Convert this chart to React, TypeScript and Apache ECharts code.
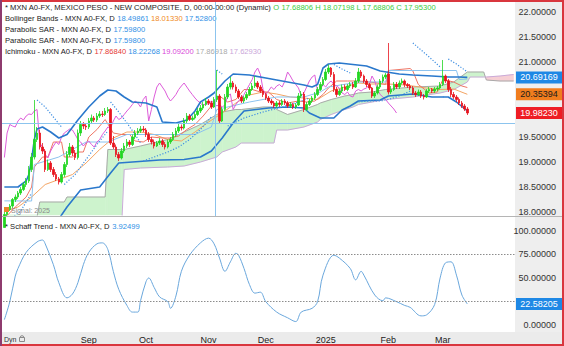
import React, { useEffect, useRef } from 'react';
import * as echarts from 'echarts';

const FIRST_DAY = '2024-07-19';
const SLOT_COUNT = 188;
const CHIKOU_SHIFT = 26;
const FONT = 'Arial, "Liberation Sans", sans-serif';

const opens = [
  17.69, 17.95, 18.05, 18.12, 18.25, 18.30, 18.38, 18.45, 18.55, 18.62,
  18.85, 19.10, 19.45, 19.58, 19.30, 19.22, 18.85, 18.98, 18.85, 18.75,
  18.66, 18.60, 18.75, 18.95, 19.15, 19.30, 19.18, 19.09, 19.58, 19.75,
  19.72, 19.70, 19.82, 19.88, 19.84, 19.92, 19.96, 19.95, 20.02, 20.05,
  19.38, 19.30, 19.15, 19.08, 19.22, 19.32, 19.40, 19.35, 19.50, 19.58,
  19.62, 19.66, 19.64, 19.55, 19.45, 19.40, 19.32, 19.38, 19.42, 19.35,
  19.30, 19.40, 19.45, 19.55, 19.62, 19.70, 19.68, 19.82, 19.92, 19.85,
  19.88, 19.95, 20.02, 20.08, 20.15, 20.22, 20.18, 20.10, 20.25, 20.32,
  19.82, 20.05, 20.30, 20.50, 20.58, 20.50, 20.42, 20.30, 20.22, 20.28,
  20.35, 20.45, 20.52, 20.58, 20.50, 20.42, 20.35, 20.28, 20.22, 20.18,
  20.12, 20.18, 20.15, 20.22, 20.18, 20.12, 20.15, 20.10, 20.14, 20.32,
  20.36, 20.05, 20.15, 20.22, 20.28, 20.35, 20.45, 20.55, 20.65, 20.80,
  20.88, 20.75, 20.45, 20.35, 20.42, 20.50, 20.45, 20.52, 20.55, 20.50,
  20.62, 20.80, 20.72, 20.62, 20.55, 20.48, 20.32, 20.38, 20.50, 20.62,
  20.70, 20.76, 20.40, 20.45, 20.55, 20.50, 20.58, 20.62, 20.55, 20.52,
  20.48, 20.38, 20.35, 20.40, 20.32, 20.30, 20.42, 20.45, 20.42, 20.46,
  20.48, 20.55, 20.72, 20.62, 20.45, 20.35, 20.30, 20.25, 20.18, 20.12, 20.06,
];
const closes = [
  17.95, 18.05, 18.12, 18.25, 18.30, 18.38, 18.45, 18.55, 18.62, 18.85,
  19.10, 19.45, 19.58, 19.30, 19.22, 18.85, 18.98, 18.85, 18.75, 18.66,
  18.60, 18.75, 18.95, 19.15, 19.30, 19.18, 19.09, 19.58, 19.75, 19.72,
  19.70, 19.82, 19.88, 19.84, 19.92, 19.96, 19.95, 20.02, 20.05, 19.38,
  19.30, 19.15, 19.08, 19.22, 19.32, 19.40, 19.35, 19.50, 19.58, 19.62,
  19.66, 19.64, 19.55, 19.45, 19.40, 19.32, 19.38, 19.42, 19.35, 19.30,
  19.40, 19.45, 19.55, 19.62, 19.70, 19.68, 19.82, 19.92, 19.85, 19.88,
  19.95, 20.02, 20.08, 20.15, 20.22, 20.18, 20.10, 20.25, 20.32, 19.82,
  20.05, 20.30, 20.50, 20.58, 20.50, 20.42, 20.30, 20.22, 20.28, 20.35,
  20.45, 20.52, 20.58, 20.50, 20.42, 20.35, 20.28, 20.22, 20.18, 20.12,
  20.18, 20.15, 20.22, 20.18, 20.12, 20.15, 20.10, 20.14, 20.32, 20.36,
  20.05, 20.15, 20.22, 20.28, 20.35, 20.45, 20.55, 20.65, 20.80, 20.88,
  20.75, 20.45, 20.35, 20.42, 20.50, 20.45, 20.52, 20.55, 20.50, 20.62,
  20.80, 20.72, 20.62, 20.55, 20.48, 20.32, 20.38, 20.50, 20.62, 20.70,
  20.74, 20.40, 20.45, 20.55, 20.50, 20.58, 20.62, 20.55, 20.52, 20.48,
  20.38, 20.35, 20.40, 20.32, 20.30, 20.42, 20.45, 20.42, 20.46, 20.48,
  20.55, 20.72, 20.62, 20.45, 20.35, 20.30, 20.25, 20.18, 20.12, 20.06, 19.98,
];
const highs = [
  18.07, 18.09, 18.16, 18.28, 18.35, 18.42, 18.50, 18.60, 18.68, 18.92,
  19.18, 20.24, 19.70, 19.65, 19.38, 19.26, 19.05, 19.02, 18.90, 18.80,
  18.70, 18.80, 19.00, 19.22, 19.38, 19.34, 19.24, 19.65, 19.82, 19.80,
  19.78, 19.88, 19.95, 19.92, 19.98, 20.02, 20.02, 20.08, 20.10, 20.08,
  19.52, 19.35, 19.20, 19.28, 19.38, 19.46, 19.44, 19.55, 19.64, 19.68,
  19.72, 19.72, 19.68, 19.60, 19.50, 19.45, 19.42, 19.48, 19.46, 19.40,
  19.45, 19.50, 19.60, 19.68, 19.76, 19.75, 19.88, 19.98, 19.96, 19.93,
  20.00, 20.08, 20.14, 20.20, 20.28, 20.26, 20.22, 20.30, 20.84, 20.36,
  20.10, 20.36, 20.56, 20.70, 20.62, 20.55, 20.46, 20.34, 20.32, 20.40,
  20.50, 20.58, 20.72, 20.62, 20.54, 20.46, 20.38, 20.32, 20.26, 20.22,
  20.22, 20.22, 20.26, 20.26, 20.22, 20.20, 20.18, 20.18, 20.38, 20.42,
  20.40, 20.20, 20.26, 20.32, 20.40, 20.50, 20.60, 20.70, 20.86, 20.95,
  20.90, 20.80, 20.50, 20.46, 20.55, 20.55, 20.56, 20.60, 20.60, 20.68,
  20.88, 20.84, 20.75, 20.66, 20.58, 20.50, 20.42, 20.55, 20.66, 20.75,
  20.78, 21.38, 20.52, 20.60, 20.60, 20.63, 20.67, 20.65, 20.58, 20.56,
  20.52, 20.42, 20.45, 20.44, 20.36, 20.46, 20.50, 20.48, 20.50, 20.52,
  20.60, 21.04, 20.75, 20.66, 20.50, 20.40, 20.34, 20.29, 20.22, 20.16, 20.10,
];
const lows = [
  17.69, 17.92, 18.02, 18.08, 18.20, 18.26, 18.34, 18.42, 18.50, 18.58,
  18.80, 19.05, 19.40, 19.25, 19.16, 18.80, 18.82, 18.80, 18.70, 18.62,
  18.55, 18.57, 18.70, 18.90, 19.10, 19.12, 19.04, 19.05, 19.52, 19.66,
  19.64, 19.66, 19.78, 19.80, 19.80, 19.88, 19.90, 19.92, 19.98, 19.34,
  19.26, 19.10, 19.02, 19.05, 19.18, 19.28, 19.30, 19.32, 19.46, 19.54,
  19.58, 19.60, 19.50, 19.40, 19.35, 19.27, 19.30, 19.34, 19.30, 19.25,
  19.27, 19.36, 19.42, 19.50, 19.58, 19.63, 19.65, 19.78, 19.82, 19.82,
  19.85, 19.92, 19.98, 20.04, 20.12, 20.14, 20.06, 20.08, 20.20, 19.78,
  19.80, 20.02, 20.26, 20.45, 20.45, 20.38, 20.26, 20.18, 20.18, 20.24,
  20.32, 20.42, 20.48, 20.46, 20.38, 20.30, 20.24, 20.18, 20.14, 20.08,
  20.08, 20.10, 20.12, 20.14, 20.08, 20.08, 20.06, 20.06, 20.12, 20.28,
  20.00, 20.02, 20.12, 20.18, 20.24, 20.32, 20.42, 20.52, 20.62, 20.76,
  20.70, 20.40, 20.30, 20.32, 20.38, 20.42, 20.42, 20.48, 20.46, 20.48,
  20.58, 20.68, 20.58, 20.50, 20.44, 20.28, 20.28, 20.35, 20.46, 20.58,
  20.66, 20.35, 20.36, 20.42, 20.46, 20.46, 20.55, 20.50, 20.48, 20.44,
  20.34, 20.30, 20.32, 20.28, 20.25, 20.28, 20.38, 20.38, 20.38, 20.42,
  20.45, 20.52, 20.58, 20.40, 20.30, 20.26, 20.20, 20.14, 20.08, 20.02, 19.94,
];

// Bollinger bands: [bar index, value]
const bbUpper = [
  [0, 18.5], [5, 18.5], [8, 18.62], [9, 18.75], [10, 19.05], [11, 19.45], [12, 19.66], [14, 19.7],
  [17, 19.6], [20, 19.48], [23, 19.55], [27, 19.84], [31, 20.1], [35, 20.32], [38, 20.44], [41, 20.42],
  [44, 20.3], [47, 20.2], [52, 20.18], [56, 20.1], [58, 19.8], [63, 19.78], [67, 19.84], [70, 20.02],
  [72, 20.2], [75, 20.3], [77, 20.38], [79, 20.5], [81, 20.62], [84, 20.76], [90, 20.74], [96, 20.68],
  [100, 20.64], [106, 20.58], [110, 20.54], [113, 20.5], [115, 20.55], [117, 20.88], [119, 20.96],
  [123, 20.98], [128, 20.95], [133, 20.92], [138, 20.82], [145, 20.76], [150, 20.74], [157, 20.72],
  [163, 20.7], [167, 20.7], [170, 20.69169],
];
const bbMiddle = [
  [0, 18.0133], [5, 18.1], [10, 18.3], [15, 18.55], [20, 18.65], [25, 18.75], [30, 18.98], [35, 19.25],
  [40, 19.48], [45, 19.6], [50, 19.6], [55, 19.55], [60, 19.45], [65, 19.42], [70, 19.6], [75, 19.8],
  [80, 19.98], [85, 20.18], [90, 20.34], [95, 20.4], [100, 20.36], [105, 20.3], [110, 20.28], [115, 20.25],
  [120, 20.42], [125, 20.5], [130, 20.58], [135, 20.56], [140, 20.56], [145, 20.55], [150, 20.52],
  [155, 20.48], [160, 20.45], [165, 20.46], [170, 20.35394],
];
const bbLower = [
  [0, 17.528], [10, 17.55], [14, 17.45], [19, 17.78], [23, 18.1], [28, 18.44], [35, 18.5], [39, 18.78],
  [42, 18.98], [47, 19.0], [57, 19.04], [66, 19.05], [72, 19.1], [76, 19.22], [80, 19.48], [84, 19.78],
  [88, 20.02], [97, 20.08], [104, 20.1], [110, 20.08], [112, 19.98], [116, 19.88], [121, 19.88],
  [124, 20.04], [127, 20.12], [130, 20.22], [138, 20.24], [141, 20.32], [150, 20.36], [157, 20.3],
  [163, 20.3], [166, 20.2], [170, 20.02],
];

// Ichimoku
const tenkan = [
  [0, 17.8684], [4, 18.1], [8, 18.3], [10, 18.5], [11, 18.9], [14, 19.1], [16, 19.1], [18, 19.4], [21, 19.4],
  [22, 19.1], [25, 19.1], [27, 19.2], [29, 19.2], [31, 19.5], [34, 19.65], [37, 19.85], [40, 19.58],
  [43, 19.55], [46, 19.55], [48, 19.42], [51, 19.4], [54, 19.5], [58, 19.48], [61, 19.48], [64, 19.52],
  [67, 19.65], [70, 19.75], [73, 19.92], [76, 20.12], [79, 20.32], [82, 20.2], [85, 20.25], [88, 20.45],
  [91, 20.45], [94, 20.4], [97, 20.4], [100, 20.25], [104, 20.18], [108, 20.22], [111, 20.2], [114, 20.22],
  [117, 20.35], [119, 20.48], [122, 20.62], [126, 20.62], [130, 20.62], [134, 20.6], [137, 20.58],
  [140, 20.55], [141, 20.83], [149, 20.87], [150, 20.82], [152, 20.55], [156, 20.38], [159, 20.4],
  [161, 20.65], [165, 20.6], [168, 20.52], [170, 20.49],
];
const kijun = [
  [0, 18.2227], [10, 18.22], [11, 18.95], [20, 19.1], [30, 19.4], [38, 19.4], [45, 19.55], [55, 19.55],
  [63, 19.55], [70, 19.55], [76, 19.7], [78, 20.05], [90, 20.2], [100, 20.3], [110, 20.3], [116, 20.4],
  [119, 20.5], [130, 20.6], [140, 20.6], [141, 20.83], [166, 20.83], [167, 20.65], [170, 20.66],
];
const cloudIdx = [0, 12, 13, 22, 23, 37, 38, 43, 44, 50, 60, 66, 72, 78, 80, 85, 87, 95, 99, 100, 104, 110, 115, 116, 120, 125, 128, 130, 135, 140, 150, 160, 165, 170, 171, 176, 177, 182, 187];
const spanA = [17.869, 17.90, 18.20, 18.20, 18.30, 18.30, 19.25, 19.25, 19.25, 19.32, 19.45, 19.60, 19.75, 19.95, 20.00, 20.05, 20.05, 20.10, 20.10, 20.05, 19.95, 20.05, 20.15, 20.18, 20.25, 20.32, 20.35, 20.38, 20.40, 20.45, 20.50, 20.52, 20.60, 20.80, 20.80, 20.80, 20.64, 20.62, 20.62];
const spanB = [17.629, 17.63, 17.63, 17.63, 17.63, 17.63, 17.63, 17.63, 18.85, 18.88, 18.90, 18.92, 19.00, 19.10, 19.20, 19.30, 19.38, 19.38, 19.38, 19.64, 19.64, 19.70, 19.80, 19.85, 19.95, 20.05, 20.10, 20.15, 20.20, 20.25, 20.30, 20.38, 20.45, 20.60, 20.70, 20.70, 20.70, 20.72, 20.75];

// Parabolic SAR runs: [bar index, value]
const sarSegments = [
  [[2, 17.85], [6, 18.02], [10, 18.38]],
  [[12, 20.24], [15, 20.1], [18, 19.9], [21, 19.7]],
  [[22, 18.55], [26, 18.75], [30, 19.05], [34, 19.35], [38, 19.62]],
  [[39, 20.2], [42, 20.0], [45, 19.78], [48, 19.55], [50, 19.38]],
  [[51, 19.02], [56, 19.12], [60, 19.2], [64, 19.3], [68, 19.45], [72, 19.65], [76, 19.9]],
  [[78, 20.84], [80, 20.76]],
  [[82, 19.72], [88, 19.88], [95, 20.0], [102, 20.1], [108, 20.2], [112, 20.28]],
  [[121, 20.95], [124, 20.86], [127, 20.78]],
  [[130, 20.2], [134, 20.22], [138, 20.22], [141, 20.25], [145, 20.32], [149, 20.42]],
  [[150, 21.38], [153, 21.24], [156, 21.1], [160, 20.9]],
  [[161, 20.3], [162, 20.32]],
  [[163, 21.06], [166, 20.96], [170, 20.8]],
];

// Schaff Trend: [bar index, value]
const schaff = [
  [0, 6], [2, 25], [4, 52], [5, 60], [8, 77], [12, 88], [14, 90], [15, 86], [18, 64], [20, 45], [23, 29],
  [25, 33], [27, 45], [29, 64], [31, 77], [34, 86], [36, 87], [38, 80], [40, 57], [42, 38], [45, 21],
  [47, 14], [49, 14], [50, 26], [52, 46], [53, 50], [55, 40], [57, 30], [60, 25], [61, 18], [63, 31],
  [65, 57], [68, 74], [72, 87], [75, 92], [77, 86], [79, 71], [81, 57], [83, 67], [85, 76], [86, 74],
  [88, 60], [90, 43], [92, 34], [94, 35], [96, 25], [100, 14], [104, 8], [107, 4], [109, 14], [113, 18],
  [115, 25], [117, 53], [121, 74], [123, 71], [127, 60], [129, 48], [131, 57], [132, 53], [136, 32],
  [139, 26], [140, 29], [144, 25], [147, 21], [149, 19], [153, 10], [155, 11], [158, 22], [160, 50],
  [162, 66], [164, 67], [166, 53], [168, 32], [170, 22.58205],
];

// tick labels left visible by the value markers
const priceTicks = [18, 18.5, 19, 19.5, 21, 21.5, 22];
const stcTicks = [0, 50, 75, 100];
const stcLevels = [75, 25];
const lastUpper = 20.69169;
const lastMiddle = 20.35394;
const lastClose = 19.9823;
const lastStc = 22.58205;
const MONTH_ABBR = ['Jan', 'Feb', 'Mar', 'Apr', 'May', 'Jun', 'Jul', 'Aug', 'Sep', 'Oct', 'Nov', 'Dec'];

const legendRows: [string, string][][] = [
  [['* MXN A0-FX, MEXICO PESO - NEW COMPOSITE, D, 00:00-00:00 (Dynamic) ', '#1a1a1a'], ['O 17.68806 H 18.07198 L 17.68806 C 17.95300', '#3ccc3c']],
  [['Bollinger Bands - MXN A0-FX, D ', '#1a1a1a'], ['18.49861 ', '#2f8fe6'], ['18.01330 ', '#f08a24'], ['17.52800', '#2f8fe6']],
  [['Parabolic SAR - MXN A0-FX, D ', '#1a1a1a'], ['17.59800', '#2f8fe6']],
  [['Parabolic SAR - MXN A0-FX, D ', '#1a1a1a'], ['17.59800', '#2f8fe6']],
  [['Ichimoku - MXN A0-FX, D ', '#1a1a1a'], ['17.86840 ', '#e53935'], ['18.22268 ', '#2f8fe6'], ['19.09200 ', '#d946d9'], ['17.86918 ', '#aaaaaa'], ['17.62930', '#c9a6d9']],
];
const stcLegend: [string, string][] = [['* Schaff Trend - MXN A0-FX, D ', '#1a1a1a'], ['3.92499', '#2f8fe6']];

function tradingDays(start: string, n: number): string[] {
  const out: string[] = [];
  const d = new Date(start + 'T00:00:00Z');
  while (out.length < n) {
    const wd = d.getUTCDay();
    if (wd !== 0 && wd !== 6) out.push(d.toISOString().slice(0, 10));
    d.setUTCDate(d.getUTCDate() + 1);
  }
  return out;
}

function richText(parts: [string, string][], x: number, y: number, size = 7.6) {
  const rich: Record<string, any> = {};
  let text = '';
  parts.forEach(([t, c], k) => {
    rich['s' + k] = { fill: c, fontSize: size, fontFamily: FONT };
    text += '{s' + k + '|' + t + '}';
  });
  return {
    type: 'text', x, y, z: 50, silent: true,
    style: { text, rich, font: `${size}px ${FONT}`, verticalAlign: 'middle', textVerticalAlign: 'middle' },
  };
}

export default function App() {
  const ref = useRef<HTMLDivElement>(null);
  useEffect(() => {
    document.body.style.margin = '0';
    const el = ref.current!;
    const chart = echarts.init(el, undefined, { renderer: 'svg' });
    const dates = tradingDays(FIRST_DAY, SLOT_COUNT);
    const monthLabels: Record<number, string> = {};
    for (let i = 1; i < closes.length; i++) {
      const m = dates[i].slice(5, 7);
      if (m !== dates[i - 1].slice(5, 7) && i > 20) {
        monthLabels[i] = m === '01' ? dates[i].slice(0, 4) : MONTH_ABBR[Number(m) - 1];
      }
    }
    const candleData = opens.map((o, i) => [o, closes[i], lows[i], highs[i]]);
    const chikou = closes.slice(CHIKOU_SHIFT).map((c, i) => [i, c]);
    const line = (data: any[], color: string, width: number, z: number, extra: any = {}) => ({
      type: 'line', data, xAxisIndex: 0, yAxisIndex: 0, symbol: 'none', showSymbol: false, silent: true,
      clip: true, z, lineStyle: { color, width, ...extra },
    });

    const cloudSeries = {
      type: 'custom', xAxisIndex: 0, yAxisIndex: 0, silent: true, z: 1,
      data: [[0, spanA[0]]],
      renderItem: (params: any, api: any) => {
        const cs = params.coordSys;
        const cy = (y: number) => Math.max(cs.y, Math.min(cs.y + cs.height, y));
        const pts = cloudIdx.map((ix, k) => {
          const pa = api.coord([ix, spanA[k]]);
          const pb = api.coord([ix, spanB[k]]);
          return { x: pa[0], ya: cy(pa[1]), yb: cy(pb[1]), d: spanA[k] - spanB[k] };
        });
        const children: any[] = [];
        const poly = (points: number[][], up: boolean) => {
          const c = up ? '#cdf3cd' : '#f6cfd4';
          children.push({ type: 'polygon', shape: { points }, style: { fill: c, stroke: c, lineWidth: 0.5 } });
        };
        for (let k = 0; k < pts.length - 1; k++) {
          const p = pts[k], q = pts[k + 1];
          if (p.d * q.d < 0) {
            const t = p.d / (p.d - q.d);
            const mx = p.x + t * (q.x - p.x);
            const my = p.ya + t * (q.ya - p.ya);
            poly([[p.x, p.ya], [mx, my], [p.x, p.yb]], p.d > 0);
            poly([[mx, my], [q.x, q.ya], [q.x, q.yb]], q.d > 0);
          } else {
            poly([[p.x, p.ya], [q.x, q.ya], [q.x, q.yb], [p.x, p.yb]], p.d + q.d >= 0);
          }
        }
        return { type: 'group', children };
      },
    };

    const series: any[] = [
      cloudSeries,
      line(cloudIdx.map((ix, k) => [ix, spanA[k]]), '#a9a9a9', 1, 2),
      line(cloudIdx.map((ix, k) => [ix, spanB[k]]), '#c9aad8', 1, 2),
      line(bbMiddle, '#f3a463', 1, 3),
      line(tenkan, '#ee7565', 1, 3),
      line(kijun, '#8cc2ee', 1, 3),
      line(chikou, '#dd5cd9', 1, 3),
      line(bbUpper, '#2a78cc', 1.6, 4),
      line(bbLower, '#2a78cc', 1.6, 4),
      ...sarSegments.map((seg) => line(seg, '#3f8fe2', 1.2, 4, { type: [1.2, 1.7] })),
      {
        type: 'candlestick', xAxisIndex: 0, yAxisIndex: 0, data: candleData, barWidth: 2, z: 5, silent: true,
        itemStyle: { color: '#22d622', color0: '#e8141e', borderColor: '#22d622', borderColor0: '#e8141e', borderWidth: 0.8 },
      },
      {
        type: 'line', xAxisIndex: 1, yAxisIndex: 1, data: schaff, smooth: 0.35, symbol: 'none', showSymbol: false,
        silent: true, lineStyle: { color: '#6aa7dc', width: 1 },
        markLine: {
          silent: true, symbol: 'none', label: { show: false },
          lineStyle: { color: '#8c8c8c', type: [1.5, 1.5], width: 1 },
          data: stcLevels.map((v) => ({ yAxis: v })),
        },
      },
    ];

    const yLabel = { fontSize: 9, color: '#333', align: 'right', margin: 41, fontFamily: FONT, formatter: (v: number) => v.toFixed(5) };
    chart.setOption({
      animation: false,
      backgroundColor: '#ffffff',
      grid: [
        { left: 3, top: 2, width: 512, height: 213 },
        { left: 3, top: 217, width: 512, height: 115 },
      ],
      xAxis: [
        { type: 'category', gridIndex: 0, data: dates, show: false },
        {
          type: 'category', gridIndex: 1, data: dates, axisLine: { show: false }, axisTick: { show: false },
          axisLabel: {
            interval: (i: number) => i in monthLabels, formatter: (_v: string, i: number) => monthLabels[i] ?? '',
            fontSize: 9, color: '#222', margin: 3, fontFamily: FONT,
          },
        },
      ],
      yAxis: [
        {
          type: 'value', gridIndex: 0, position: 'right', min: 17.94, max: 22.2, axisLine: { show: false },
          axisTick: { show: false }, splitLine: { show: false }, axisLabel: { ...yLabel, customValues: priceTicks },
        },
        {
          type: 'value', gridIndex: 1, position: 'right', min: -7, max: 114.3, axisLine: { show: false },
          axisTick: { show: false }, splitLine: { show: false }, axisLabel: { ...yLabel, customValues: stcTicks },
        },
      ],
      series,
    });

    const py = (v: number, axis: number) => chart.convertToPixel({ yAxisIndex: axis } as any, v) as unknown as number;
    const marker = (v: number, axis: number, bg: string, fg: string) => {
      const y = py(v, axis);
      return {
        type: 'group', z: 100, silent: true,
        children: [
          { type: 'rect', shape: { x: 516, y: y - 6, width: 46, height: 12 }, style: { fill: bg }, z: 100 },
          {
            type: 'text', x: 539, y, z: 101,
            style: { text: v.toFixed(5), fill: fg, font: `9px ${FONT}`, align: 'center', verticalAlign: 'middle', textAlign: 'center', textVerticalAlign: 'middle' },
          },
        ],
      };
    };

    const elements: any[] = [
      { type: 'rect', z: -10, silent: true, shape: { x: 515, y: 0, width: 49, height: 346 }, style: { fill: '#eeeeee' } },
      { type: 'rect', z: -10, silent: true, shape: { x: 0, y: 332, width: 564, height: 14 }, style: { fill: '#ebebeb' } },
      { type: 'line', z: 60, silent: true, shape: { x1: 0, y1: 216.5, x2: 564, y2: 216.5 }, style: { stroke: '#b5b5b5', lineWidth: 1 } },
      { type: 'line', z: 60, silent: true, shape: { x1: 215.5, y1: 0, x2: 215.5, y2: 216 }, style: { stroke: '#8cc4ee', lineWidth: 1 } },
      { type: 'line', z: 60, silent: true, shape: { x1: 0, y1: 123.5, x2: 515, y2: 123.5 }, style: { stroke: '#8cc4ee', lineWidth: 1 } },
      ...legendRows.map((row, k) => richText(row, 5, 7 + k * 11)),
      richText(stcLegend, 5, 226),
      { type: 'rect', z: 50, silent: true, shape: { x: 4, y: 207, width: 5, height: 5 }, style: { fill: '#e9862a' } },
      { type: 'text', z: 50, silent: true, x: 11, y: 210, style: { text: 'Signal: 2025', fill: '#8a8a8a', font: `7px ${FONT}`, verticalAlign: 'middle', textVerticalAlign: 'middle' } },
      { type: 'text', z: 50, silent: true, x: 4, y: 339, style: { text: 'Dyn', fill: '#333', font: `7px ${FONT}`, verticalAlign: 'middle', textVerticalAlign: 'middle' } },
      { type: 'rect', z: 50, silent: true, shape: { x: 19.5, y: 337.5, width: 5, height: 4 }, style: { fill: 'none', stroke: '#8a8a8a', lineWidth: 1 } },
      { type: 'arc', z: 50, silent: true, shape: { cx: 22, cy: 337.5, r: 1.8, startAngle: Math.PI, endAngle: 2 * Math.PI }, style: { fill: 'none', stroke: '#8a8a8a', lineWidth: 1 } },
      marker(lastUpper, 0, '#1e88e5', '#ffffff'),
      marker(lastMiddle, 0, '#f07d1e', '#1a1a1a'),
      marker(lastClose, 0, '#ee1c24', '#ffffff'),
      marker(lastStc, 1, '#1e88e5', '#ffffff'),
      { type: 'rect', z: 200, silent: true, shape: { x: 1, y: 1, width: 562, height: 344 }, style: { fill: 'none', stroke: '#d9363e', lineWidth: 2 } },
      { type: 'line', z: 201, silent: true, shape: { x1: 1, y1: 0, x2: 1, y2: 346 }, style: { stroke: '#8e3b6e', lineWidth: 2 } },
    ];
    chart.setOption({ graphic: { elements } });
    return () => chart.dispose();
  }, []);
  return <div ref={ref} style={{ width: 564, height: 346 }} />;
}
